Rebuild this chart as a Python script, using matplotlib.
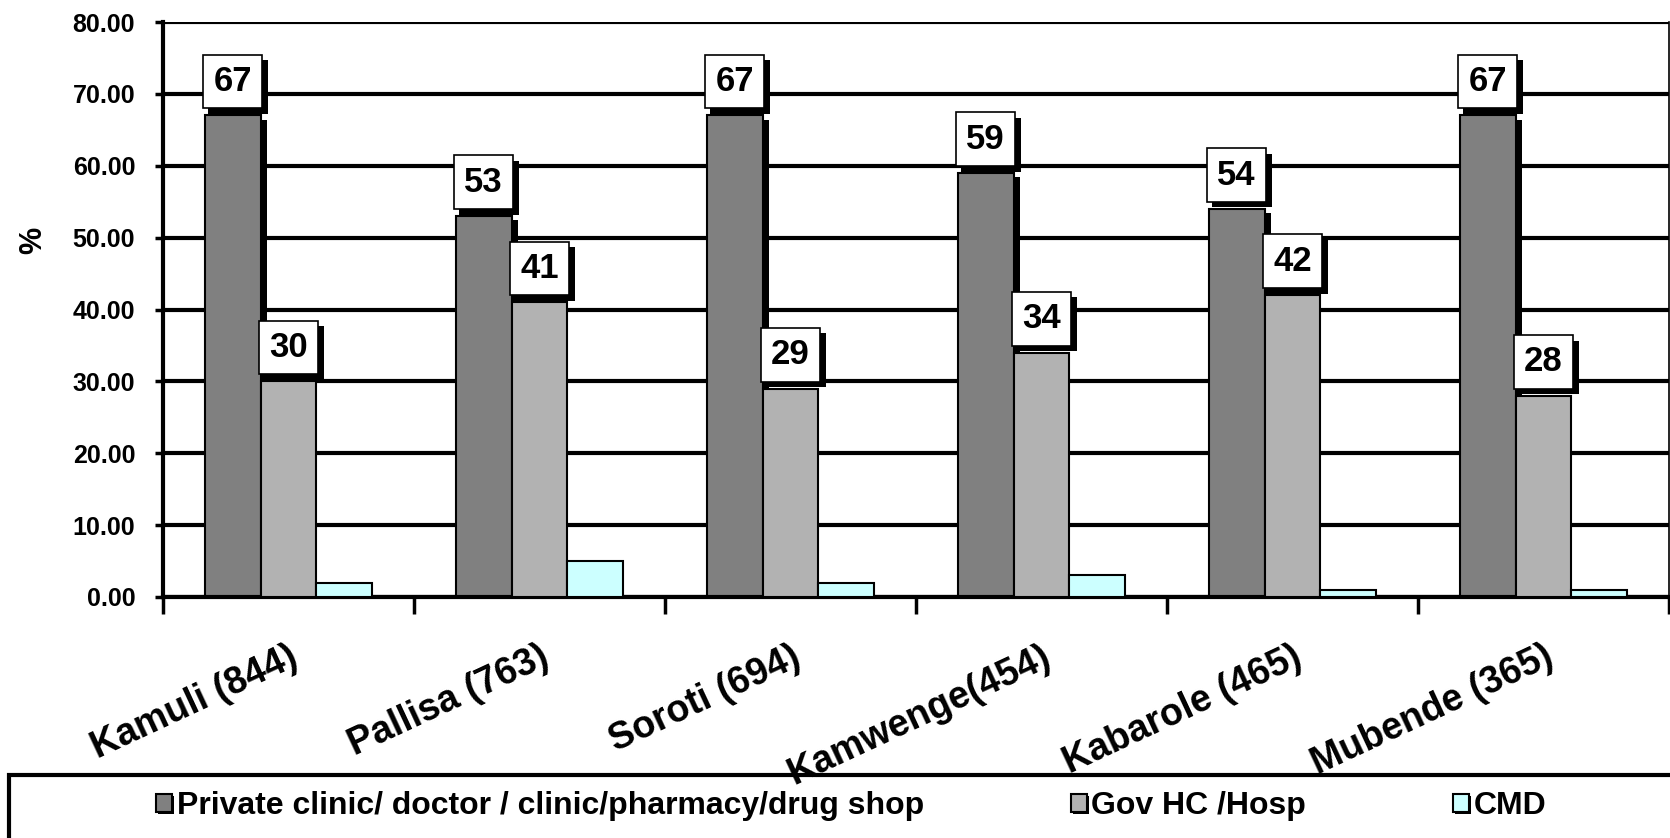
import numpy as np
import matplotlib.pyplot as plt
import matplotlib.patheffects as pe
from matplotlib.patches import Rectangle

plt.rcParams['font.family'] = ['Liberation Sans', 'DejaVu Sans']

# values (%)
districts = ["Kamuli (844)", "Pallisa (763)", "Soroti (694)",
             "Kamwenge(454)", "Kabarole (465)", "Mubende (365)"]
private = [67, 53, 67, 59, 54, 67]
gov = [30, 41, 29, 34, 42, 28]
cmd = [2, 5, 2, 3, 1, 1]
series_names = ["Private clinic/ doctor / clinic/pharmacy/drug shop",
                "Gov HC /Hosp", "CMD"]
colors = ["#808080", "#B2B2B2", "#CCFFFF"]

W, H = 1670, 838
fig = plt.figure(figsize=(W / 100, H / 100), dpi=100)
ax = fig.add_axes([163 / W, 1 - 597 / H, (1669 - 163) / W, (597 - 22) / H])

x = np.arange(len(districts)) + 0.5
bw = 0.223
shadow = pe.SimplePatchShadow(offset=(5, -3), shadow_rgbFace="black", alpha=1.0)
label_shadow = pe.SimplePatchShadow(offset=(4, -4), shadow_rgbFace="black", alpha=1.0)

for i, (vals, name, col) in enumerate(zip([private, gov, cmd], series_names, colors)):
    bars = ax.bar(x + (i - 1) * bw, vals, width=bw, color=col, edgecolor="black",
                  linewidth=1.5, label=name, zorder=2 + i)
    if i == 0:
        for b in bars:
            b.set_path_effects([shadow, pe.Normal()])
    if i < 2:
        for xi, v in zip(x + (i - 1) * bw, vals):
            t = ax.annotate(f"{v}", xy=(xi, v), xytext=(0, 12.5), textcoords="offset points",
                            ha="center", va="bottom", fontsize=25, fontweight="bold", zorder=10,
                            bbox=dict(boxstyle="square,pad=0.3", fc="white", ec="black", lw=1.2))
            t.get_bbox_patch().set_path_effects([label_shadow, pe.Normal()])

ax.set_xlim(0, len(districts))
ax.set_ylim(0, 80)
ax.set_yticks(np.arange(0, 81, 10))
ax.set_yticklabels([f"{v:.2f}" for v in np.arange(0, 81, 10)], fontsize=18, fontweight="bold")
ax.yaxis.grid(True, color="black", linewidth=3)
ax.set_axisbelow(True)

ax.set_xticks(np.arange(len(districts) + 1))
ax.set_xticklabels([])
ax.set_xticks(x, minor=True)
ax.set_xticklabels(districts, minor=True, rotation=25, ha="right", rotation_mode="anchor",
                   fontsize=27, fontweight="bold")
ax.tick_params(axis="x", which="major", length=12, width=2.5, direction="out")
ax.tick_params(axis="x", which="minor", length=0, pad=30)
ax.tick_params(axis="y", length=6, width=2.5, pad=14)

for side in ["left", "bottom"]:
    ax.spines[side].set_linewidth(3)
ax.spines["top"].set_visible(False)
ax.spines["right"].set_linewidth(1.2)

ax.set_ylabel("%", fontsize=22, fontweight="bold")
ax.yaxis.set_label_coords(-0.076, 0.62)

# legend box along the bottom
fig.patches.append(Rectangle((9 / W, -0.05), 1.0, (838 - 775) / H + 0.05,
                             transform=fig.transFigure, fill=False, ec="black", lw=3))
leg = fig.legend(loc="center left", bbox_to_anchor=(127 / W, 1 - 806 / H), ncol=3,
                 frameon=False, prop={"size": 23, "weight": "bold"},
                 handlelength=0.5, handleheight=0.5, handletextpad=0.15, columnspacing=4.6)
for h in leg.legend_handles:
    h.set_path_effects([pe.SimplePatchShadow(offset=(1.5, -1.5), shadow_rgbFace="black", alpha=1.0),
                        pe.Normal()])

fig.savefig("out.png", dpi=100)
